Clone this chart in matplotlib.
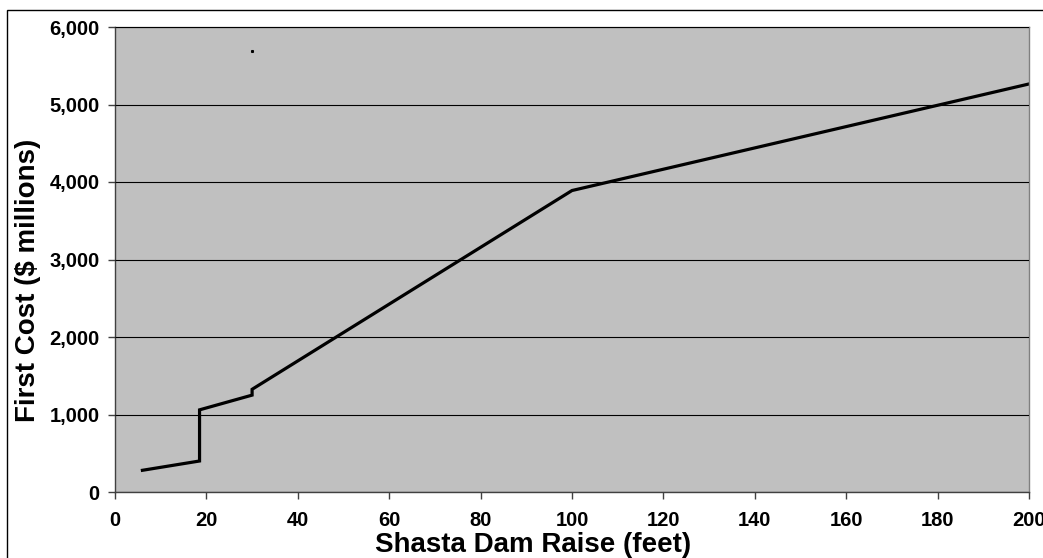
import matplotlib
matplotlib.use('Agg')
import matplotlib.pyplot as plt
from matplotlib.patches import Rectangle
from matplotlib.ticker import FuncFormatter

# Data
raise_ft = [6, 18.5, 18.5, 30, 30, 100, 200]
first_cost = [280, 400, 1060, 1250, 1325, 3890, 5265]

# stray point in the top-left of the plot
stray_x = [30]
stray_y = [5690]

x_ticks = list(range(0, 201, 20))
y_ticks = list(range(0, 6001, 1000))

plt.rcParams['font.family'] = ['Liberation Sans', 'DejaVu Sans']
plt.rcParams['font.weight'] = 'bold'

W, H = 1043, 558
fig = plt.figure(figsize=(W / 100, H / 100), dpi=100)
fig.patch.set_facecolor('white')

# outer chart border
fig.patches.append(Rectangle((7 / W, -0.05), 1.2, 1 - 10 / H + 0.05,
                             transform=fig.transFigure, fill=False,
                             edgecolor='black', linewidth=1.0))

ax = fig.add_axes([115 / W, (H - 492) / H, 914 / W, 465 / H])
ax.set_facecolor('#C0C0C0')

ax.plot(raise_ft, first_cost, color='black', linewidth=2.3, solid_joinstyle='miter')
ax.plot(stray_x, stray_y, 's', color='black', markersize=1.2)

ax.set_xlim(0, 200)
ax.set_ylim(0, 6000)
ax.set_xticks(x_ticks)
ax.set_yticks(y_ticks)
ax.yaxis.set_major_formatter(FuncFormatter(lambda v, p: f'{int(v):,}'))

ax.yaxis.grid(True, color='black', linewidth=0.8)
ax.set_axisbelow(False)

for side in ['left', 'bottom']:
    ax.spines[side].set_color('#404040')
    ax.spines[side].set_linewidth(1.0)
for side in ['top', 'right']:
    ax.spines[side].set_color('#808080')
    ax.spines[side].set_linewidth(1.0)

ax.tick_params(axis='both', direction='out', length=5, width=1.0, color='#404040',
               labelsize=14.5)
ax.tick_params(axis='x', pad=9)
ax.tick_params(axis='y', pad=6)
for lbl in ax.get_xticklabels() + ax.get_yticklabels():
    lbl.set_fontweight('bold')

fig.text(533 / W, 1 - 545 / H, 'Shasta Dam Raise (feet)', ha='center', va='center',
         fontsize=20, fontweight='bold')
fig.text(28 / W, 1 - 280 / H, 'First Cost ($ millions)', ha='center', va='center',
         rotation=90, fontsize=20, fontweight='bold')

fig.savefig('out.png', dpi=100)
